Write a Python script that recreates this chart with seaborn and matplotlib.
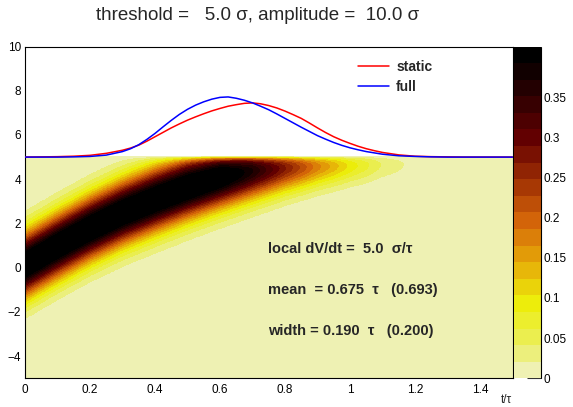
import numpy as np
import pandas as pd
import matplotlib
matplotlib.use("Agg")
import matplotlib.pyplot as plt
from matplotlib.colors import LinearSegmentedColormap, ListedColormap, BoundaryNorm
from matplotlib.ticker import MultipleLocator, FixedLocator, FuncFormatter
import seaborn as sns

# ---- settings shown in the title and text box ----
threshold = 5.0
amplitude = 10.0
local_dvdt = 5.0
mean_full, mean_static = 0.675, 0.693
width_full, width_static = 0.190, 0.200

# ---- crossing-time distributions, drawn on top of the threshold line ----
t_curve = [0.00, 0.05, 0.10, 0.15, 0.20, 0.25,
           0.300, 0.325, 0.350, 0.375, 0.400, 0.425, 0.450, 0.475,
           0.500, 0.525, 0.550, 0.575, 0.600, 0.625, 0.650, 0.675,
           0.700, 0.725, 0.750, 0.775, 0.800, 0.825, 0.850, 0.875,
           0.900, 0.925, 0.950, 0.975, 1.000, 1.025, 1.050, 1.075, 1.100,
           1.15, 1.20, 1.25, 1.30, 1.35, 1.40, 1.45, 1.50]
static_curve = [5.00, 5.01, 5.02, 5.04, 5.08, 5.17,
                5.31, 5.41, 5.54, 5.72, 5.92, 6.12, 6.32, 6.50,
                6.67, 6.82, 6.96, 7.09, 7.20, 7.30, 7.37, 7.43,
                7.45, 7.41, 7.33, 7.22, 7.08, 6.92, 6.75, 6.54,
                6.32, 6.11, 5.92, 5.76, 5.62, 5.49, 5.38, 5.29, 5.21,
                5.10, 5.04, 5.02, 5.01, 5.00, 5.00, 5.00, 5.00]
full_curve = [5.00, 5.00, 5.00, 5.01, 5.03, 5.09,
              5.25, 5.38, 5.56, 5.80, 6.07, 6.37, 6.66, 6.93,
              7.16, 7.35, 7.50, 7.62, 7.70, 7.72, 7.66, 7.57,
              7.45, 7.30, 7.14, 6.95, 6.75, 6.55, 6.35, 6.16,
              5.97, 5.81, 5.66, 5.53, 5.42, 5.33, 5.25, 5.19, 5.13,
              5.06, 5.03, 5.01, 5.00, 5.00, 5.00, 5.00, 5.00]

# ---- band of not-yet-crossed trajectories below threshold ----
t_band = [0.0, 0.1, 0.2, 0.3, 0.4, 0.5, 0.6, 0.7, 0.8, 0.9, 1.0, 1.1, 1.2, 1.3, 1.4, 1.5]
band_centre = [0.10, 0.95, 1.75, 2.45, 3.05, 3.60, 4.05, 4.35, 4.52, 4.60,
               4.65, 4.70, 4.72, 4.75, 4.75, 4.75]
band_peak = [0.470, 0.470, 0.470, 0.470, 0.470, 0.468, 0.450, 0.375, 0.275, 0.178,
             0.100, 0.040, 0.012, 0.003, 0.0, 0.0]
band_width = [0.98, 0.98, 0.98, 0.98, 0.98, 0.97, 0.94, 0.88, 0.78, 0.68,
              0.60, 0.55, 0.55, 0.55, 0.55, 0.55]
edge_depletion = 0.12

z_max = 0.413
n_levels = 20
cbar_ticks = [0.0, 0.05, 0.10, 0.15, 0.20, 0.25, 0.30, 0.35]

# inverted "dark body radiator" palette: pale yellow -> yellow -> orange -> black
palette_stops = [(242, 243, 230), (234, 238, 95), (237, 238, 11), (230, 168, 8),
                 (212, 101, 9), (156, 45, 3), (99, 0, 1), (45, 0, 1), (0, 0, 0)]

sns.set_theme(style="white")
plt.rcParams["font.family"] = ["Liberation Sans", "DejaVu Sans"]
plt.rcParams["axes.unicode_minus"] = True

W, H = 573, 407
fig = plt.figure(figsize=(W / 100, H / 100), dpi=100)
fig.patch.set_facecolor("white")

def px_box(x0, y0, x1, y1):
    return [x0 / W, 1 - y1 / H, (x1 - x0) / W, (y1 - y0) / H]

ax = fig.add_axes(px_box(25, 46.5, 512.5, 378.3))
cax = fig.add_axes(px_box(513.5, 46.5, 541, 378.3))
ax.set_facecolor("white")

# colour levels
body = LinearSegmentedColormap.from_list(
    "body", [np.array(c) / 255 for c in palette_stops])
level_colors = [body((i + 1) / n_levels) for i in range(n_levels)]
cmap = ListedColormap(level_colors)
levels = np.linspace(0, z_max, n_levels + 1)
norm = BoundaryNorm(levels, cmap.N)

# density field on a fine (t, V) grid below threshold
tg = np.linspace(0, 1.5, 1201)
vg = np.linspace(-5, threshold, 801)
TT, VV = np.meshgrid(tg, vg)
cen = np.interp(TT, t_band, band_centre)
pk = np.interp(TT, t_band, band_peak)
wd = np.interp(TT, t_band, band_width)
Z = pk * np.exp(-0.5 * ((VV - cen) / wd) ** 2) * (1 - np.exp(-(threshold - VV) / edge_depletion))
Z = np.clip(Z, 0, z_max * 0.999)
im = ax.imshow(Z, extent=[0, 1.5, -5, threshold], origin="lower", aspect="auto",
               cmap=cmap, norm=norm, interpolation="nearest", zorder=1)

# crossing-time curves
curves = pd.DataFrame({
    "t": t_curve * 2,
    "V": static_curve + full_curve,
    "curve": ["static"] * len(t_curve) + ["full"] * len(t_curve),
})
sns.lineplot(data=curves, x="t", y="V", hue="curve", hue_order=["static", "full"],
             palette={"static": "#ff0000", "full": "#0000ff"}, linewidth=1.1,
             sort=False, ax=ax, zorder=3)

ax.set_xlim(0, 1.5)
ax.set_ylim(-5, 10)
ax.set_xlabel("")
ax.set_ylabel("")

for s in ax.spines.values():
    s.set_visible(True)
    s.set_color("black")
    s.set_linewidth(0.8)

ax.xaxis.set_major_locator(MultipleLocator(0.2))
ax.xaxis.set_minor_locator(MultipleLocator(0.05))
ax.yaxis.set_major_locator(FixedLocator([-4, -2, 0, 2, 4, 6, 8, 10]))
ax.yaxis.set_minor_locator(MultipleLocator(0.5))
ax.xaxis.set_major_formatter(FuncFormatter(lambda v, p: f"{v:g}"))
ax.tick_params(axis="both", which="both", direction="in", colors="#333333",
               labelcolor="black", labelsize=8.5, width=0.8)
ax.tick_params(axis="x", which="major", length=7, pad=4)
ax.tick_params(axis="x", which="minor", length=3.5)
ax.tick_params(axis="y", which="major", length=10.5, pad=3)
ax.tick_params(axis="y", which="minor", length=5.2)
ax.tick_params(top=False, right=False, which="both")

sns.move_legend(ax, "upper left", bbox_to_anchor=((351 - 25) / 487.5, (378.3 - 53) / 331.8),
                frameon=False, title=None, prop={"weight": "bold", "size": 10},
                handlelength=2.2, handletextpad=0.55, labelspacing=0.45, borderpad=0)

# colour bar
cb = fig.colorbar(im, cax=cax, ticks=cbar_ticks)
cb.outline.set_visible(False)
cax.plot([1, 1], [0, 1], transform=cax.transAxes, color="black", lw=0.8, clip_on=False)
cax.yaxis.set_major_formatter(FuncFormatter(lambda v, p: f"{v:g}"))
cax.tick_params(axis="y", which="major", direction="in", length=10, width=0.8,
                colors="#333333", labelcolor="black", labelsize=8.5, pad=2)
cax.minorticks_off()

# title, axis label, summary text
fig.text(258 / W, 1 - 15 / H, "threshold =   5.0 σ, amplitude =  10.0 σ",
         ha="center", va="center", fontsize=13.5)
fig.text(512 / W, 1 - 400 / H, "t/τ", ha="right", va="center", fontsize=8.5)

info = [
    f"local dV/dt =  {local_dvdt:.1f}  σ/τ",
    f"mean  = {mean_full:.3f}  τ   ({mean_static:.3f})",
    f"width = {width_full:.3f}  τ   ({width_static:.3f})",
]
for yc, line in zip([249, 290, 331], info):
    fig.text(268 / W, 1 - yc / H, line, ha="left", va="center",
             fontsize=10.5, fontweight="bold")

fig.savefig("out.png", dpi=100)
